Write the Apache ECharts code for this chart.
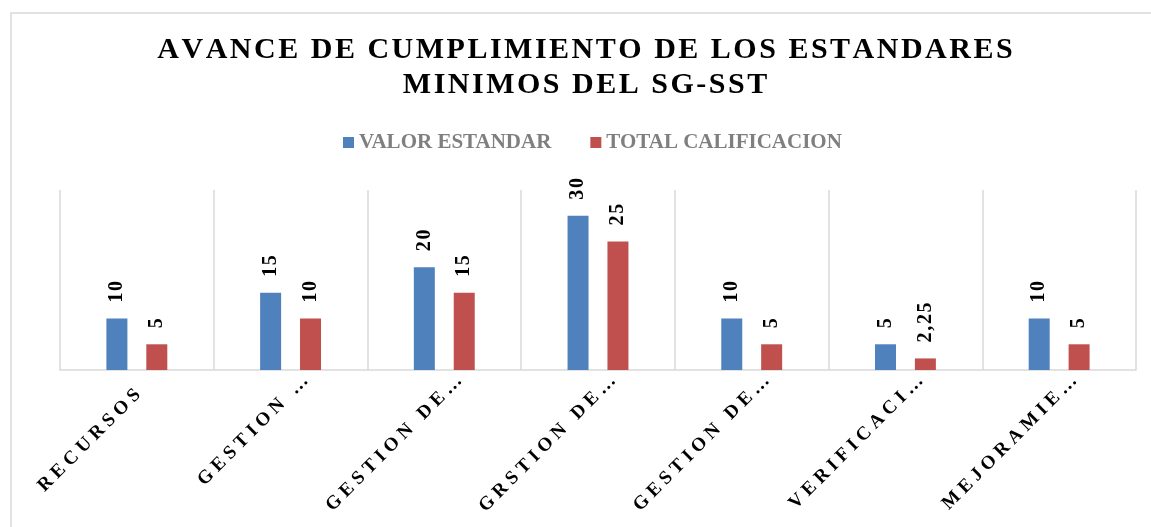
<!DOCTYPE html>
<html>
<head>
<meta charset="utf-8">
<script src="https://cdn.jsdelivr.net/npm/echarts@6/dist/echarts.min.js"></script>
<style>
  html, body { margin: 0; padding: 0; background: #fff; }
  #chart { width: 1151px; height: 527px; }
</style>
</head>
<body>
<div id="chart"></div>
<script>
// categorias (nombres completos) y etiquetas tal como se ven recortadas en el eje
var categories = ['RECURSOS', 'GESTION INTEGRAL DEL SG-SST', 'GESTION DE LA SALUD', 'GRSTION DE PELIGROS Y RIESGOS', 'GESTION DE AMENAZAS', 'VERIFICACION DEL SG-SST', 'MEJORAMIENTO'];
var tickLabels = ['RECURSOS', 'GESTION …', 'GESTION DE…', 'GRSTION DE…', 'GESTION DE…', 'VERIFICACI…', 'MEJORAMIE…'];
var valorEstandar = [10, 15, 20, 30, 10, 5, 10];
var totalCalificacion = [5, 10, 15, 25, 5, 2.25, 5];

var SERIF = "'Liberation Serif', 'Times New Roman', serif";

// separa las letras para imitar el espaciado de Excel
function spaced(str, sep) {
    return str.split('').join(sep);
}

var myChart = echarts.init(document.getElementById('chart'));

var labelOpt = {
    show: true,
    position: 'top',
    rotate: 90,
    align: 'left',
    verticalAlign: 'middle',
    distance: 16,
    color: '#000',
    fontFamily: SERIF,
    fontWeight: 'bold',
    fontSize: 20,
    formatter: function (p) {
        return spaced(String(p.value).replace('.', ','), '\u200A');
    }
};

var option = {
    backgroundColor: '#fff',
    animation: false,
    graphic: [{
        type: 'rect',
        shape: { x: 11, y: 13, width: 1150, height: 600 },
        style: { fill: 'none', stroke: '#d9d9d9', lineWidth: 1.5 },
        silent: true
    }],
    title: {
        text: spaced('AVANCE DE CUMPLIMIENTO DE LOS ESTANDARES', '\u200A') + '\n' + spaced('MINIMOS DEL SG-SST', '\u200A'),
        left: 580,
        top: 28,
        textAlign: 'center',
        textStyle: {
            fontFamily: SERIF,
            fontWeight: 'bold',
            fontSize: 30,
            lineHeight: 35,
            color: '#000'
        }
    },
    legend: {
        data: ['VALOR ESTANDAR', 'TOTAL CALIFICACION'],
        left: 338,
        top: 127,
        itemWidth: 11,
        itemHeight: 11,
        itemGap: 39,
        icon: 'rect',
        textStyle: {
            fontFamily: SERIF,
            fontWeight: 'bold',
            fontSize: 21,
            color: '#7f7f7f'
        }
    },
    // el segundo grid solo lleva las etiquetas del eje, algo desplazadas como en Excel
    grid: [{
        left: 60,
        right: 15,
        top: 190,
        bottom: 157
    }, {
        left: 75,
        right: 0,
        top: 190,
        bottom: 157
    }],
    xAxis: [{
        type: 'category',
        data: categories,
        axisLine: { lineStyle: { color: '#d9d9d9', width: 1.5 } },
        axisTick: { show: false, interval: 0 },
        axisLabel: { show: false, interval: 0 },
        splitLine: { show: true, interval: 0, lineStyle: { color: '#d9d9d9', width: 1.5 } }
    }, {
        type: 'category',
        gridIndex: 1,
        data: categories,
        axisLine: { show: false },
        axisTick: { show: false },
        splitLine: { show: false },
        axisLabel: {
            interval: 0,
            rotate: 45,
            margin: 8,
            color: '#000',
            fontFamily: SERIF,
            fontWeight: 'bold',
            fontSize: 19,
            formatter: function (v, i) {
                var t = spaced(tickLabels[i], '\u2005');
                // las etiquetas completas quedan un poco mas atras que las recortadas
                return tickLabels[i].indexOf('…') < 0 ? '{t|' + t + '}{pad|}' : '{t|' + t + '}';
            },
            rich: {
                t: {
                    color: '#000',
                    fontFamily: SERIF,
                    fontWeight: 'bold',
                    fontSize: 19
                },
                pad: { width: 20 }
            }
        }
    }],
    yAxis: [{
        type: 'value',
        min: 0,
        max: 35,
        show: false,
        splitLine: { show: false }
    }, {
        type: 'value',
        gridIndex: 1,
        min: 0,
        max: 35,
        show: false,
        splitLine: { show: false }
    }],
    series: [{
        name: 'VALOR ESTANDAR',
        type: 'bar',
        data: valorEstandar,
        barWidth: 21,
        barGap: '90%',
        itemStyle: { color: '#4f81bd' },
        label: labelOpt
    }, {
        name: 'TOTAL CALIFICACION',
        type: 'bar',
        data: totalCalificacion,
        barWidth: 21,
        itemStyle: { color: '#c0504d' },
        label: labelOpt
    }]
};

myChart.setOption(option);
</script>
</body>
</html>
